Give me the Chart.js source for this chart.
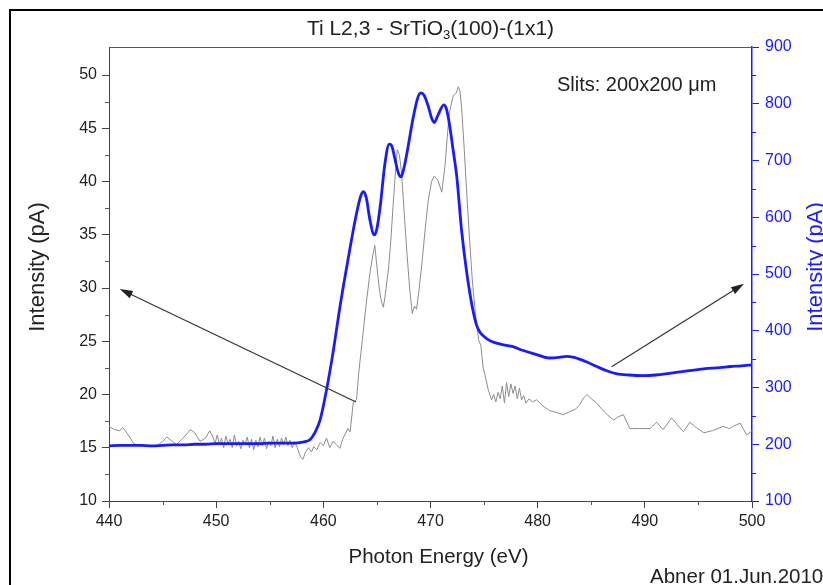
<!DOCTYPE html>
<html>
<head>
<meta charset="utf-8">
<script src="https://cdn.jsdelivr.net/npm/chart.js@4.4.0/dist/chart.umd.min.js"></script>
<style>
  html, body { margin: 0; padding: 0; background: #fff; }
  canvas { display: block; }
</style>
</head>
<body>
<canvas id="chart" width="823" height="585"></canvas>
<script>
// raw spectrum (left axis, pA)
const grayEnergy = [
  440.0, 440.5, 441.0, 441.3, 441.8, 442.3, 442.8, 443.5, 444.0, 444.5,
  445.0, 445.4, 445.9, 446.3, 447.0, 447.6, 448.0, 448.5, 449.0, 449.4,
  449.7, 449.9, 450.1, 450.3, 450.5, 450.7, 450.9, 451.1, 451.3, 451.5,
  451.7, 451.9, 452.1, 452.3, 452.5, 452.7, 452.9, 453.1, 453.3, 453.5,
  453.7, 453.9, 454.1, 454.3, 454.5, 454.7, 454.9, 455.1, 455.3, 455.5,
  455.7, 455.9, 456.1, 456.3, 456.5, 456.7, 456.9, 457.1, 457.3, 457.5,
  457.7, 457.9, 458.1, 458.3, 458.6, 458.9, 459.1, 459.4, 459.7, 460.0,
  460.3, 460.6, 460.9, 461.2, 461.55, 461.8, 462.0, 462.3, 462.5, 462.8,
  463.1, 463.3, 463.7, 464.0, 464.35, 464.6, 464.8, 465.0, 465.2, 465.4,
  465.6, 465.8, 466.1, 466.3, 466.5, 466.7, 466.9, 467.1, 467.3, 467.55,
  467.8, 468.05, 468.3, 468.5, 468.7, 468.95, 469.2, 469.5, 469.8, 470.1,
  470.35, 470.7, 471.05, 471.35, 471.55, 471.75, 472.1, 472.4, 472.6, 472.75,
  472.9, 473.15, 473.4, 473.65, 473.9, 474.2, 474.5, 474.7, 474.9, 475.2,
  475.4, 475.7, 475.9, 476.1, 476.3, 476.5, 476.7, 476.9, 477.1, 477.3,
  477.5, 477.7, 477.9, 478.1, 478.3, 478.5, 478.7, 478.9, 479.2, 479.5,
  479.9, 480.5, 481.1, 481.8, 482.4, 483.0, 483.5, 483.9, 484.3, 484.6,
  485.0, 485.5, 486.0, 486.5, 487.1, 487.5, 488.0, 488.6, 489.5, 490.5,
  491.1, 491.7, 492.5, 493.0, 493.6, 494.2, 494.8, 495.5, 496.3, 497.3,
  497.9, 498.4, 498.9, 499.5, 500.0
];
const grayIntensity = [
  17.0, 16.7, 16.6, 16.9, 16.2, 15.4, 15.2, 15.2, 15.1, 15.2,
  15.6, 16.0, 15.6, 15.3, 16.0, 16.7, 16.4, 15.6, 15.9, 16.6,
  16.0, 15.4, 16.2, 15.3, 15.9, 15.0, 16.1, 15.4, 15.8, 15.0,
  16.2, 15.2, 15.6, 14.9, 15.7, 15.3, 16.0, 15.0, 15.8, 14.8,
  15.7, 15.1, 16.0, 15.2, 15.9, 14.9, 15.6, 15.2, 16.1, 15.0,
  15.8, 15.1, 15.9, 15.3, 16.0, 15.2, 15.7, 15.0, 15.6, 15.2,
  14.6, 14.1, 13.9, 14.5, 15.0, 14.6, 15.1, 14.8, 15.5, 15.2,
  15.9, 15.0, 15.6, 15.3, 14.95, 15.8, 16.2, 16.8, 16.5, 19.3,
  19.5, 22.0, 25.7, 28.5, 31.4, 33.0, 34.0, 32.0, 30.1, 28.8,
  28.2, 29.5, 32.0, 34.5, 37.6, 40.5, 43.0, 42.5, 40.8, 37.0,
  33.3, 30.0, 27.6, 28.3, 28.0, 30.0, 32.3, 35.5, 38.3, 40.0,
  40.5, 40.1, 39.0, 41.4, 44.0, 46.4, 48.0, 48.3, 48.9, 48.5,
  47.0, 43.0, 38.6, 34.5, 30.75, 27.5, 25.1, 24.6, 22.6, 21.3,
  20.4, 19.5, 20.0, 19.3, 20.2, 19.6, 20.8, 19.2, 21.1, 19.8,
  21.0, 20.1, 20.8, 19.6, 20.6, 19.5, 19.9, 19.2, 19.6, 19.3,
  19.5, 18.9, 18.5, 18.3, 18.1, 18.4, 18.6, 19.0, 19.7, 20.0,
  19.6, 19.2, 18.6, 18.1, 17.6, 17.9, 18.1, 16.8, 16.8, 16.8,
  17.4, 16.7, 17.8, 17.2, 16.5, 17.4, 16.9, 16.4, 16.6, 17.0,
  16.8, 17.1, 17.3, 16.2, 16.6
];

// smoothed spectrum (right axis)
const blueEnergy = [
  440, 441, 442, 443, 444, 445, 446, 447, 448, 449,
  450, 451, 452, 453, 454, 455, 456, 457, 457.8, 458.4,
  458.8, 459.2, 459.7, 460.3, 460.9, 461.55, 462.3, 463.1, 463.5, 463.75,
  464.0, 464.35, 464.75, 465.0, 465.3, 465.75, 466.15, 466.4, 466.7, 467.0,
  467.25, 467.5, 467.8, 468.4, 468.8, 469.1, 469.4, 469.8, 470.1, 470.35,
  470.7, 471.25, 471.5, 471.8, 472.1, 472.45, 472.9, 473.4, 473.9, 474.3,
  474.6, 475.0, 475.5, 476.0, 476.8, 477.7, 478.5, 479.9, 481.1, 482.0,
  482.7, 483.4, 483.9, 484.7, 485.5, 486.5, 487.4, 488.5, 489.85, 491.0,
  492.3, 493.5, 495.5, 497.0, 498.0, 499.0, 500.0
];
const blueIntensity = [
  197, 198, 198, 198, 197, 198, 199, 199, 200, 200,
  201, 201, 201, 201, 201, 202, 202, 202, 203, 205,
  209, 220, 243, 296, 361, 442, 525, 607, 638, 645,
  635, 595, 569, 580, 618, 695, 729, 725, 701, 678,
  671, 685, 713, 777, 810, 819, 815, 795, 775, 767,
  780, 798, 790, 760, 720, 672, 577, 500, 442, 410,
  398, 390, 383, 379, 375, 372, 366, 358, 352, 353,
  355, 353, 350, 344, 337, 329, 324, 322, 321, 322,
  325, 328, 333, 335, 337, 338, 340
];

const xMinorTicks = [445, 455, 465, 475, 485, 495];
const leftMinorTicks = [12.5, 17.5, 22.5, 27.5, 32.5, 37.5, 42.5, 47.5];
const rightMinorTicks = [150, 250, 350, 450, 550, 650, 750, 850];

// arrows: [fromEnergy, fromPA, toEnergy, toPA]
const arrows = [
  [463.05, 19.3, 441.0, 29.9],
  [486.9, 22.6, 499.25, 30.4]
];

const BLUE = '#1a1aff';
const INK = '#222';
const FONT = '"Liberation Sans", Arial, sans-serif';

const decor = {
  id: 'decor',
  afterDraw(chart) {
    const { ctx, chartArea: a, scales } = chart;
    const x = scales.x, y = scales.y, y1 = scales.y1;
    ctx.save();

    // page frame
    ctx.strokeStyle = '#000';
    ctx.lineWidth = 2;
    ctx.beginPath();
    ctx.moveTo(10, 585); ctx.lineTo(10, 10); ctx.lineTo(823, 10);
    ctx.stroke();

    // top frame of plot
    ctx.strokeStyle = '#555';
    ctx.lineWidth = 1;
    ctx.beginPath();
    ctx.moveTo(a.left, Math.round(a.top) + 0.5);
    ctx.lineTo(a.right, Math.round(a.top) + 0.5);
    ctx.stroke();

    // minor ticks
    ctx.beginPath();
    xMinorTicks.forEach(v => {
      const px = Math.round(x.getPixelForValue(v)) + 0.5;
      ctx.moveTo(px, a.bottom); ctx.lineTo(px, a.bottom + 4);
    });
    leftMinorTicks.forEach(v => {
      const py = Math.round(y.getPixelForValue(v)) + 0.5;
      ctx.moveTo(a.left, py); ctx.lineTo(a.left - 4, py);
    });
    ctx.stroke();
    ctx.strokeStyle = BLUE;
    ctx.beginPath();
    rightMinorTicks.forEach(v => {
      const py = Math.round(y1.getPixelForValue(v)) + 0.5;
      ctx.moveTo(a.right, py); ctx.lineTo(a.right + 4, py);
    });
    ctx.stroke();

    // arrows
    ctx.strokeStyle = '#333';
    ctx.fillStyle = '#222';
    ctx.lineWidth = 1.2;
    arrows.forEach(([e0, v0, e1, v1]) => {
      const x0 = x.getPixelForValue(e0), y0 = y.getPixelForValue(v0);
      const x1 = x.getPixelForValue(e1), y1p = y.getPixelForValue(v1);
      const ang = Math.atan2(y1p - y0, x1 - x0);
      ctx.beginPath();
      ctx.moveTo(x0, y0);
      ctx.lineTo(x1 - 8 * Math.cos(ang), y1p - 8 * Math.sin(ang));
      ctx.stroke();
      ctx.beginPath();
      ctx.moveTo(x1, y1p);
      ctx.lineTo(x1 - 13 * Math.cos(ang) + 4 * Math.sin(ang), y1p - 13 * Math.sin(ang) - 4 * Math.cos(ang));
      ctx.lineTo(x1 - 13 * Math.cos(ang) - 4 * Math.sin(ang), y1p - 13 * Math.sin(ang) + 4 * Math.cos(ang));
      ctx.closePath();
      ctx.fill();
    });

    // title with subscript
    const cx = (a.left + a.right) / 2;
    const parts = ['Ti L2,3 - SrTiO', '3', '(100)-(1x1)'];
    ctx.fillStyle = INK;
    ctx.textBaseline = 'alphabetic';
    ctx.textAlign = 'left';
    const big = '21px ' + FONT, small = '13px ' + FONT;
    ctx.font = big; const w0 = ctx.measureText(parts[0]).width, w2 = ctx.measureText(parts[2]).width;
    ctx.font = small; const w1 = ctx.measureText(parts[1]).width;
    let tx = cx - (w0 + w1 + w2) / 2;
    const base = 35;
    ctx.font = big; ctx.fillText(parts[0], tx, base); tx += w0;
    ctx.font = small; ctx.fillText(parts[1], tx, base + 4); tx += w1;
    ctx.font = big; ctx.fillText(parts[2], tx, base);

    // axis titles
    const midY = 267;
    ctx.font = '22px ' + FONT;
    ctx.textAlign = 'center';
    ctx.textBaseline = 'middle';
    ctx.save();
    ctx.translate(38, midY); ctx.rotate(-Math.PI / 2);
    ctx.fillText('Intensity (pA)', 0, 0);
    ctx.restore();
    ctx.save();
    ctx.fillStyle = BLUE;
    ctx.translate(816, midY); ctx.rotate(-Math.PI / 2);
    ctx.fillText('Intensity (pA)', 0, 0);
    ctx.restore();
    ctx.font = '20.5px ' + FONT;
    ctx.fillText('Photon Energy (eV)', cx + 8, 557);

    // annotations
    ctx.textAlign = 'left';
    ctx.font = '20px ' + FONT;
    ctx.fillText('Slits: 200x200 \u03bcm', x.getPixelForValue(481.8), y.getPixelForValue(49.0));
    ctx.font = '20.5px ' + FONT;
    ctx.fillText('Abner 01.Jun.2010', 650, 577);

    ctx.restore();
  }
};

new Chart(document.getElementById('chart').getContext('2d'), {
  type: 'scatter',
  data: {
    datasets: [
      {
        label: 'smoothed',
        data: blueEnergy.map((e, i) => ({ x: e, y: blueIntensity[i] })),
        yAxisID: 'y1',
        showLine: true,
        borderColor: BLUE,
        borderWidth: 2.8,
        pointRadius: 0,
        cubicInterpolationMode: 'monotone',
        order: 0
      },
      {
        label: 'raw',
        data: grayEnergy.map((e, i) => ({ x: e, y: grayIntensity[i] })),
        yAxisID: 'y',
        showLine: true,
        borderColor: '#8c8c8c',
        borderWidth: 1,
        pointRadius: 0,
        tension: 0,
        order: 1
      }
    ]
  },
  options: {
    responsive: false,
    animation: false,
    layout: { padding: { top: 47, left: 0, right: 0, bottom: 0 } },
    plugins: { legend: { display: false }, tooltip: { enabled: false } },
    scales: {
      x: {
        type: 'linear',
        min: 440, max: 500,
        afterFit: s => { s.height = 84; },
        ticks: { stepSize: 10, color: INK, font: { family: FONT, size: 16 }, padding: 4, maxRotation: 0 },
        grid: { drawOnChartArea: false, drawTicks: true, tickLength: 7, color: '#444' },
        border: { display: true, color: '#444', width: 1 }
      },
      y: {
        position: 'left',
        min: 10, max: 52.63,
        afterFit: s => { s.width = 109; },
        ticks: { stepSize: 5, includeBounds: false, color: INK, font: { family: FONT, size: 16 }, padding: 5 },
        grid: { drawOnChartArea: false, drawTicks: true, tickLength: 7, color: '#444' },
        border: { display: true, color: '#444', width: 1 }
      },
      y1: {
        position: 'right',
        min: 100, max: 900,
        afterFit: s => { s.width = 71; },
        ticks: { stepSize: 100, color: BLUE, font: { family: FONT, size: 16 }, padding: 6 },
        grid: { drawOnChartArea: false, drawTicks: true, tickLength: 7, color: BLUE },
        border: { display: true, color: BLUE, width: 1.5 }
      }
    }
  },
  plugins: [decor]
});
</script>
</body>
</html>
